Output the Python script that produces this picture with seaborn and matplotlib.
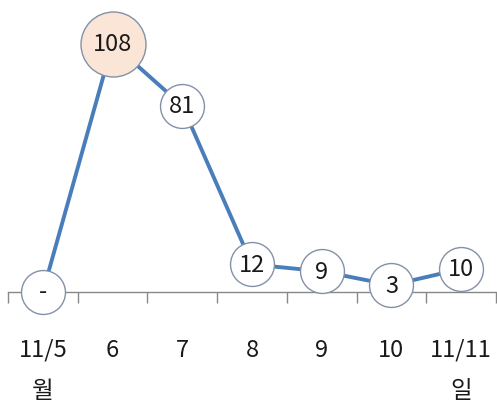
import matplotlib
matplotlib.use("Agg")
import matplotlib.pyplot as plt
import seaborn as sns
import pandas as pd
import numpy as np

categories = ["11/5\n월", "6", "7", "8", "9", "10", "11/11\n일"]
values = [0, 108, 81, 12, 9, 3, 10]
value_labels = ["-", "108", "81", "12", "9", "3", "10"]
highlight = [False, True, False, False, False, False, False]

sns.set_theme(style="white")
plt.rcParams['font.family'] = ['Noto Sans CJK KR', 'DejaVu Sans']

df = pd.DataFrame({"x": np.arange(len(categories)), "v": values})

fig = plt.figure(figsize=(4.97, 4.02), dpi=100)
ax = fig.add_axes([8/497, (402-293)/402, 488/497, 276/402])

sns.lineplot(data=df, x="x", y="v", ax=ax, color="#4a7ebb", linewidth=2.8, zorder=2)

normal = df[~np.array(highlight)]
big = df[np.array(highlight)]
ax.scatter(normal["x"], normal["v"], s=1000, facecolor="white", edgecolor="#8391a8",
           linewidth=1.0, zorder=3, clip_on=False)
ax.scatter(big["x"], big["v"], s=2190, facecolor="#fbe5d6", edgecolor="#8391a8",
           linewidth=1.0, zorder=3, clip_on=False)

for i, (v, lab) in enumerate(zip(values, value_labels)):
    ax.text(i, v, lab, ha="center", va="center", fontsize=17, color="#1a1a1a",
            zorder=4, clip_on=False)

ax.set_xlim(-0.5, len(categories) - 0.5)
ax.set_ylim(0, 120)
ax.set_xticks(range(len(categories)))
ax.set_xticklabels(categories, fontsize=17, color="#1a1a1a", linespacing=2.0)
ax.set_xticks(np.arange(-0.5, len(categories), 1.0), minor=True)
ax.tick_params(axis="x", which="major", length=0, pad=33)
ax.tick_params(axis="x", which="minor", length=8, width=1, color="#888888", direction="out")
ax.tick_params(axis="x", which="minor", bottom=True)
ax.set_yticks([])
ax.set_xlabel("")
ax.set_ylabel("")
for s in ["top", "right", "left"]:
    ax.spines[s].set_visible(False)
ax.spines["bottom"].set_color("#888888")
ax.spines["bottom"].set_linewidth(1.0)
ax.spines["bottom"].set_zorder(1)

fig.savefig("out.png", dpi=100)
